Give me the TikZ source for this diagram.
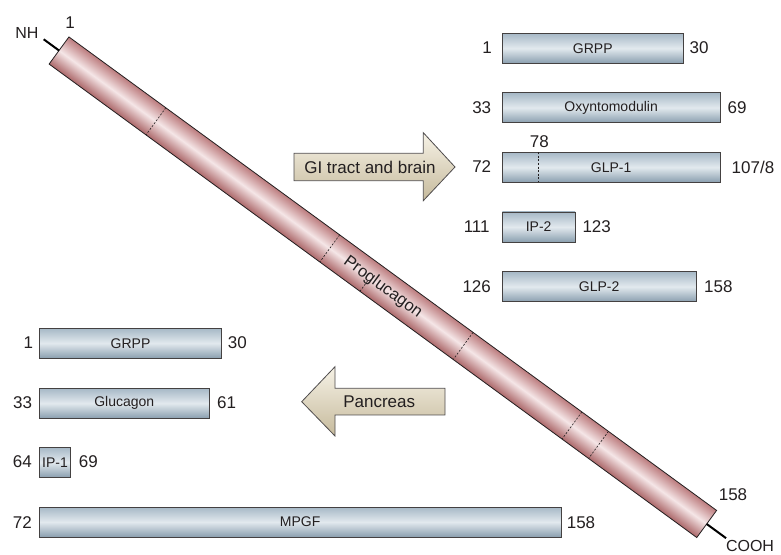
\documentclass[tikz,border=0pt]{standalone}
\usepackage{fontspec}
\setmainfont{Liberation Sans}
\usetikzlibrary{calc}
\definecolor{barEdge}{RGB}{188,124,126}
\definecolor{barDark}{RGB}{172,104,106}
\definecolor{barLight}{RGB}{245,230,231}
\definecolor{boxTop}{RGB}{166,184,198}
\definecolor{boxMid}{RGB}{226,233,238}
\definecolor{boxBot}{RGB}{138,159,175}
\definecolor{arrTop}{RGB}{246,242,230}
\definecolor{arrBot}{RGB}{198,186,156}
\definecolor{ink}{RGB}{35,31,32}
\begin{document}
\begin{tikzpicture}[x=1pt,y=1pt,
  num/.style={font=\fontsize{17}{19}\selectfont, text=ink, inner sep=0},
  endlab/.style={font=\fontsize{16}{18}\selectfont, text=ink, inner sep=0},
  pbox/.style={draw=ink!85, line width=0.8pt, top color=boxTop, bottom color=boxBot,
    middle color=boxMid, minimum height=30, anchor=west, inner sep=0, outer sep=0,
    font=\fontsize{14}{16}\selectfont, text=ink},
  bar/.style={draw=ink, line width=0.8pt, inner sep=0, outer sep=0,
    font=\fontsize{16.5}{18}\selectfont, text=ink},
  barfill/.style={top color=barEdge, bottom color=barDark, middle color=barLight},
  cut/.style={draw=ink, line width=0.6pt, dash pattern=on 2pt off 1.6pt},
  tail/.style={draw=black, line width=2pt},
  bigarrow/.style={draw=ink!80, line width=0.8pt, top color=arrTop, bottom color=arrBot}
]
\useasboundingbox (0,0) rectangle (781,554);

% proglucagon bar: shading across its width
\begin{scope}[transform canvas={shift={(382.85,266.75)}, rotate=-36.17}]
  \shade[barfill] (-401.15,-16.8) rectangle (401.15,16.8);
\end{scope}
\node[bar, rotate=-36.17, minimum width=802.3, minimum height=33.6] (pro) at (382.85,266.75) {Proglucagon};
\foreach \f in {0.1496,0.418,0.624,0.792,0.833}{
  \draw[cut] ($(pro.north west)!\f!(pro.north east)$) -- ($(pro.south west)!\f!(pro.south east)$);
}
\draw[cut] ($(pro.south west)!0.480!(pro.south east)$) --
  ($($(pro.south west)!0.480!(pro.south east)$)!0.42!($(pro.north west)!0.480!(pro.north east)$)$);
\coordinate (nh) at ($(pro.west)!-19pt!(pro.east)$);
\coordinate (cooh) at ($(pro.east)!-24pt!(pro.west)$);
\draw[tail] (pro.west) -- (nh);
\draw[tail] (pro.east) -- (cooh);
\node[endlab] (nhlab) at (27,521) {NH};
\node[num] (n1bar) at (70,531) {1};
\node[endlab] (coohlab) at (750,8) {COOH};
\node[num] (n158bar) at (733,59) {158};

% GI tract arrow
\path[bigarrow] (294,400.7) -- (423.3,400.7) -- (423.3,421.3) -- (455,387) -- (423.3,353.3)
  -- (423.3,373.3) -- (294,373.3) -- cycle;
\node[num] (gi) at (370,387) {GI tract and brain};

% Pancreas arrow
\path[bigarrow] (445,165.7) -- (335,165.7) -- (335,187.3) -- (301.7,152.3) -- (335,118)
  -- (335,139) -- (445,139) -- cycle;
\node[num] (panc) at (379.2,152.3) {Pancreas};

% right column
\node[pbox, minimum width=181] (grppR) at (502.3,505.7) {GRPP};
\node[num] at (487,506) {1};
\node[num] at (699,506) {30};

\node[pbox, minimum width=217.7] (oxy) at (502.3,446.3) {Oxyntomodulin};
\node[num] at (481.7,446) {33};
\node[num] at (737,446) {69};

\node[pbox, minimum width=217.7] (glp1) at (502.3,386.7) {GLP-1};
\draw[cut, line width=0.5pt] ($(glp1.north west)+(36,0)$) -- ($(glp1.south west)+(36,0)$);
\node[num] at (539.3,412.3) {78};
\node[num] at (481.7,387) {72};
\node[num] at (753,387) {107/8};

\node[pbox, minimum width=72.7] (ip2) at (502.3,327) {IP-2};
\node[num] at (476.7,327) {111};
\node[num] at (596.7,327) {123};

\node[pbox, minimum width=193.7] (glp2) at (502.3,267.3) {GLP-2};
\node[num] at (476.7,267) {126};
\node[num] at (718.3,267) {158};

% left column
\node[pbox, minimum width=182.4] (grppL) at (39.3,210.8) {GRPP};
\node[num] at (28.3,211) {1};
\node[num] at (237.3,211) {30};

\node[pbox, minimum width=170] (gluc) at (39.3,150.7) {Glucagon};
\node[num] at (22.7,151) {33};
\node[num] at (226.7,151) {61};

\node[pbox, minimum width=31.4] (ip1) at (39.3,91.7) {IP-1};
\node[num] at (22.3,92) {64};
\node[num] at (88.3,92) {69};

\node[pbox, minimum width=521.7] (mpgf) at (39.3,32) {MPGF};
\node[num] at (22.3,31) {72};
\node[num] at (581,31) {158};
\end{tikzpicture}
\end{document}
